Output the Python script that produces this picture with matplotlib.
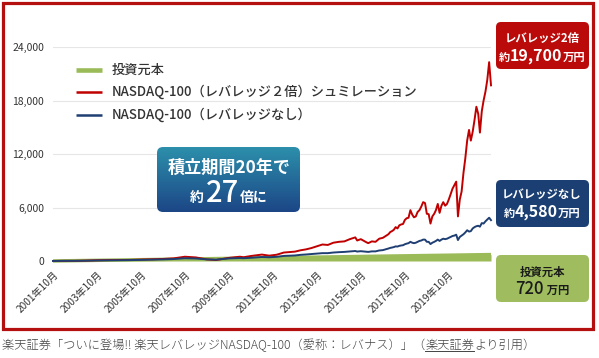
import numpy as np
import pandas as pd
import matplotlib
matplotlib.use('Agg')
import matplotlib.pyplot as plt
from matplotlib.patches import FancyBboxPatch, Rectangle

plt.rcParams['font.family'] = ['Noto Sans CJK JP', 'DejaVu Sans']

# 積立シミュレーション（万円）
dates = ['2001-10', '2002-04', '2002-10', '2003-04', '2003-10', '2004-04', '2004-10',
         '2005-04', '2005-10', '2006-04', '2006-10', '2007-04', '2007-10', '2008-04',
         '2008-10', '2009-03', '2009-10', '2010-04', '2010-06', '2010-10', '2011-04',
         '2011-08', '2011-12', '2012-04', '2012-10', '2013-01', '2013-04', '2013-07',
         '2013-10', '2014-01', '2014-04', '2014-07', '2014-10', '2015-01', '2015-04',
         '2015-07', '2015-08', '2015-10', '2016-01', '2016-02', '2016-04', '2016-06',
         '2016-08', '2016-10',
         '2017-01', '2017-02', '2017-03', '2017-04', '2017-05', '2017-06', '2017-07',
         '2017-08', '2017-09', '2017-10', '2017-11', '2017-12',
         '2018-01', '2018-02', '2018-03', '2018-04', '2018-05', '2018-06', '2018-07',
         '2018-08', '2018-09', '2018-10', '2018-11', '2018-12',
         '2019-01', '2019-02', '2019-03', '2019-04', '2019-05', '2019-06', '2019-07',
         '2019-08', '2019-09', '2019-10', '2019-11', '2019-12',
         '2020-01', '2020-02', '2020-03', '2020-04', '2020-05', '2020-06', '2020-07',
         '2020-08', '2020-09', '2020-10', '2020-11', '2020-12',
         '2021-01', '2021-02', '2021-03', '2021-04', '2021-05', '2021-06', '2021-07',
         '2021-08', '2021-09']
lev2 = [3, 15, 15, 40, 80, 100, 110, 120, 160, 190, 230, 300, 480, 400,
        180, 110, 350, 480, 420, 560, 720,
        600, 700, 950, 1050, 1200, 1300, 1450,
        1650, 1850, 1800, 2050, 2150, 2200, 2450,
        2650, 2300, 2450, 2100, 2000, 2200, 2150,
        2500, 2600,
        3000, 3250, 3350, 3500, 3800, 3650, 4000,
        4100, 4150, 4600, 4800, 4850,
        5700, 5200, 4900, 5000, 5500, 5700, 6100,
        6600, 6500, 5300, 5250, 4200,
        5000, 5300, 5700, 6400, 5400, 6200, 6600,
        6200, 6400, 6900, 7500, 8100,
        8500, 8900, 5000, 6900, 7800, 9900, 11500,
        13500, 14700, 13500, 14500, 15800,
        17300, 16500, 14400, 16800, 18000, 19000, 20300,
        22300, 19700]
nolev = [3, 18, 20, 35, 60, 75, 85, 100, 125, 150, 180, 220, 310, 280,
         180, 150, 290, 330, 310, 360, 450,
         420, 470, 570, 620, 690, 730, 780,
         830, 880, 880, 950, 990, 1020, 1070,
         1120, 1060, 1100, 1040, 1020, 1080, 1080,
         1180, 1220,
         1400, 1470, 1510, 1560, 1640, 1620, 1700,
         1740, 1770, 1880, 1950, 2000,
         2150, 2050, 2000, 2050, 2150, 2250, 2300,
         2400, 2400, 2150, 2150, 1900,
         2050, 2150, 2250, 2400, 2250, 2400, 2500,
         2450, 2500, 2600, 2700, 2800,
         2850, 2950, 2350, 2700, 2850, 3000, 3200,
         3450, 3300, 3350, 3650, 3800,
         3900, 3950, 3850, 4250, 4200, 4450, 4650,
         4850, 4580]
principal_dates = ['2001-10', '2006-10', '2011-10', '2016-10', '2021-09']
principal = [3, 183, 363, 543, 720]

tick_dates = ['2001-10', '2003-10', '2005-10', '2007-10', '2009-10',
              '2011-10', '2013-10', '2015-10', '2017-10', '2019-10']
tick_labels = ['2001年10月', '2003年10月', '2005年10月', '2007年10月', '2009年10月',
               '2011年10月', '2013年10月', '2015年10月', '2017年10月', '2019年10月']
y_ticks = [0, 6000, 12000, 18000, 24000]
y_labels = ['0', '6,000', '12,000', '18,000', '24,000']

RED = '#c00000'
NAVY = '#1f3f73'
GREEN = '#9bbb59'
TXT = '#333333'

W, H = 599, 358
fig = plt.figure(figsize=(W / 100, H / 100), dpi=100)

ax = fig.add_axes([53 / W, 1 - 261 / H, (491 - 53) / W, (261 - 47) / H])
d = pd.to_datetime(dates)
pd_ = pd.to_datetime(principal_dates)

ax.fill_between(pd_, 0, principal, color=GREEN, lw=0, zorder=2, clip_on=False)
ax.plot(pd_, principal, color=GREEN, lw=2.5, zorder=2, solid_capstyle='butt', clip_on=False)
ax.plot(d, lev2, color=RED, lw=1.4, zorder=3, clip_on=False)
ax.plot(d, nolev, color=NAVY, lw=1.4, zorder=4, clip_on=False)

ax.set_xlim(d[0], d[-1])
ax.set_ylim(0, 24000)
ax.set_yticks(y_ticks)
ax.set_yticklabels(y_labels)
ax.set_xticks(pd.to_datetime(tick_dates))
ax.set_xticklabels(tick_labels, rotation=45, ha='right', rotation_mode='anchor')
ax.tick_params(axis='y', length=0, pad=6.5, labelsize=7.5, labelcolor=TXT)
ax.tick_params(axis='x', length=0, pad=6, labelsize=7.3, labelcolor=TXT)
ax.yaxis.grid(True, color='#e6e6e6', lw=0.8)
ax.set_axisbelow(True)
for s in ax.spines.values():
    s.set_visible(False)

# 装飾用のピクセル座標レイヤー
ov = fig.add_axes([0, 0, 1, 1])
ov.axis('off')
ov.add_patch(Rectangle((3, 3), 590, 326, fill=False, ec='#b41010', lw=2.3))

# 凡例
ov.plot([76, 102], [69.5, 69.5], color=GREEN, lw=3.3, solid_capstyle='butt')
ov.plot([76, 102], [91.5, 91.5], color=RED, lw=1.8, solid_capstyle='butt')
ov.plot([76, 102], [114.5, 114.5], color=NAVY, lw=1.8, solid_capstyle='butt')
ov.text(112, 70, '投資元本', fontsize=9.5, va='center', color=TXT, fontweight='medium')
ov.text(112, 92, 'NASDAQ-100（レバレッジ２倍）シュミレーション', fontsize=9.5, va='center', color=TXT, fontweight='medium')
ov.text(112, 115, 'NASDAQ-100（レバレッジなし）', fontsize=9.5, va='center', color=TXT, fontweight='medium')

renderer = fig.canvas.get_renderer()


def rich(parts, x, y, color, align='center'):
    texts = []
    for s, size, w in parts:
        texts.append(ov.text(0, y, s, fontsize=size, fontweight=w, color=color,
                             va='baseline', ha='left'))
    widths = [t.get_window_extent(renderer).width for t in texts]
    x0 = x - sum(widths) / 2 if align == 'center' else x
    pos = []
    for t, wd in zip(texts, widths):
        t.set_x(x0)
        pos.append((x0, x0 + wd))
        x0 += wd
    return pos


def box(x, y, w, h, color):
    ov.add_patch(FancyBboxPatch((x, y), w, h, boxstyle='round,pad=0,rounding_size=5',
                                fc=color, ec='none'))


box(496, 22, 93, 47, '#bb0a0a')
rich([('レバレッジ2倍', 8.2, 'bold')], 542, 42, 'white')
rich([('約', 8, 'bold'), ('19,700', 11.5, 'bold'), ('万円', 8.2, 'bold')], 542, 61, 'white')

box(496, 180, 93, 47, '#1b3f72')
rich([('レバレッジなし', 8.2, 'bold')], 542, 198, 'white')
rich([('約', 8, 'bold'), ('4,580', 11.5, 'bold'), ('万円', 8.2, 'bold')], 542, 217, 'white')

box(496, 255, 93, 47, '#9fbd5e')
rich([('投資元本', 8.2, 'bold')], 542, 276, '#1a1a1a')
rich([('720', 12, 'medium'), (' 万円', 8.2, 'bold')], 542, 294, '#1a1a1a')

# 中央のグラデーション枠
grad = np.linspace(0, 1, 64).reshape(-1, 1)
cmap = matplotlib.colors.LinearSegmentedColormap.from_list('g', ['#2c8fab', '#1c4686'])
clip = FancyBboxPatch((157, 147), 143, 65, boxstyle='round,pad=0,rounding_size=6',
                      fc='none', ec='none')
ov.add_patch(clip)
im = ov.imshow(grad, cmap=cmap, extent=(157, 300, 212, 147), aspect='auto', zorder=1)
im.set_clip_path(clip)
rich([('積立期間20年で', 12.3, 'bold')], 229, 173, 'white')
rich([('約', 10, 'bold'), (' ', 5, 'bold'), ('27', 21, 'medium'), (' ', 4, 'bold'), ('倍に', 10, 'bold')],
     229, 202, 'white')

# 出典
pos = rich([('楽天証券「ついに登場!! 楽天レバレッジNASDAQ-100（愛称：レバナス）」（', 8.8, 'light'),
            ('楽天証券', 8.8, 'light'), ('より引用）', 8.8, 'light')], 2, 349, '#444444', align='left')
ov.plot([pos[1][0], pos[1][1]], [351, 351], color='#444444', lw=0.7)

ov.set_xlim(0, W)
ov.set_ylim(H, 0)

fig.savefig('out.png', dpi=100)
